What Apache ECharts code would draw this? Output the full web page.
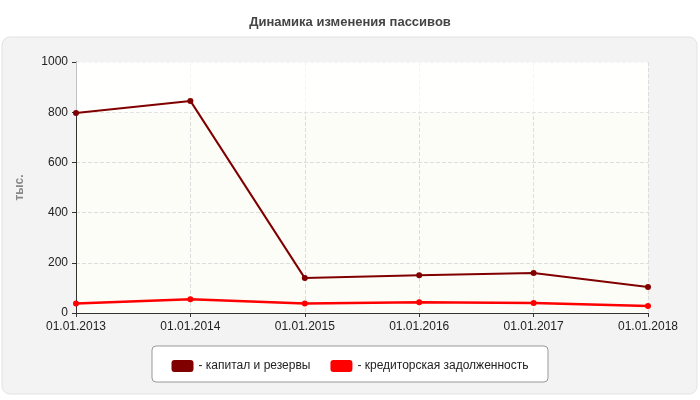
<!DOCTYPE html>
<html><head><meta charset="utf-8">
<script src="https://cdn.jsdelivr.net/npm/echarts@6/dist/echarts.min.js"></script>
<style>html,body{margin:0;padding:0;background:#fff}#c{width:700px;height:400px}</style>
</head><body><div id="c"></div>
<script>
const categories = ['01.01.2013','01.01.2014','01.01.2015','01.01.2016','01.01.2017','01.01.2018'];
const capital = [797, 845, 139, 150, 159, 104];
const creditor = [38, 55, 38, 43, 40, 28];
const seriesNames = ['- капитал и резервы', '- кредиторская задолженность'];
const chart = echarts.init(document.getElementById('c'));
chart.setOption({
  animation: false,
  graphic: [
    {type:'rect', z:-10, shape:{x:2,y:37,width:695,height:357,r:8}, style:{fill:'#f3f3f3',stroke:'#e2e2e2'}},
    {type:'rect', z:-5, shape:{x:152,y:346,width:396,height:36,r:4}, style:{fill:'#fff',stroke:'#999'}}
  ],
  title: {text:'Динамика изменения пассивов', left:'center', top:11,
    textStyle:{fontFamily:'Arial',fontSize:13,fontWeight:'bold',color:'#444'}},
  grid: {left:76, right:52, top:62, bottom:87, show:true, backgroundColor:'#fdfdf8', borderWidth:0},
  legend: {bottom:23, left:'center', itemWidth:22, itemHeight:12, itemGap:20, icon:'roundRect',
    textStyle:{fontFamily:'Arial',fontSize:12,color:'#222'},
    data: seriesNames},
  xAxis: {type:'category', data:categories, boundaryGap:false,
    axisLine:{lineStyle:{color:'#333'}}, axisTick:{show:true,length:4,lineStyle:{color:'#333'}},
    axisLabel:{fontFamily:'Arial',fontSize:12,color:'#222',margin:8},
    splitLine:{show:true,lineStyle:{type:'dashed',color:'#ddd'}}},
  yAxis: {type:'value', min:0, max:1000, interval:200, name:'тыс.', nameLocation:'middle', nameGap:50,
    nameTextStyle:{fontFamily:'Arial',fontSize:12,fontWeight:'bold',color:'#888'},
    axisLine:{show:true,lineStyle:{color:'#333'}}, axisTick:{show:true,length:4,lineStyle:{color:'#333'}},
    axisLabel:{fontFamily:'Arial',fontSize:12,color:'#222',formatter:v=>String(v)},
    splitLine:{lineStyle:{type:'dashed',color:'#ddd'}}},
  series: [
    {name:seriesNames[0], type:'line', data:capital, color:'#800000', symbol:'circle', symbolSize:6,
      lineStyle:{width:2},
      markArea:{silent:true, itemStyle:{color:'#ffffff',opacity:0.7}, data:[[{yAxis:800},{yAxis:1000}]]}},
    {name:seriesNames[1], type:'line', data:creditor, color:'#ff0000', symbol:'circle', symbolSize:6,
      lineStyle:{width:2.5}}
  ]
});
</script></body></html>
